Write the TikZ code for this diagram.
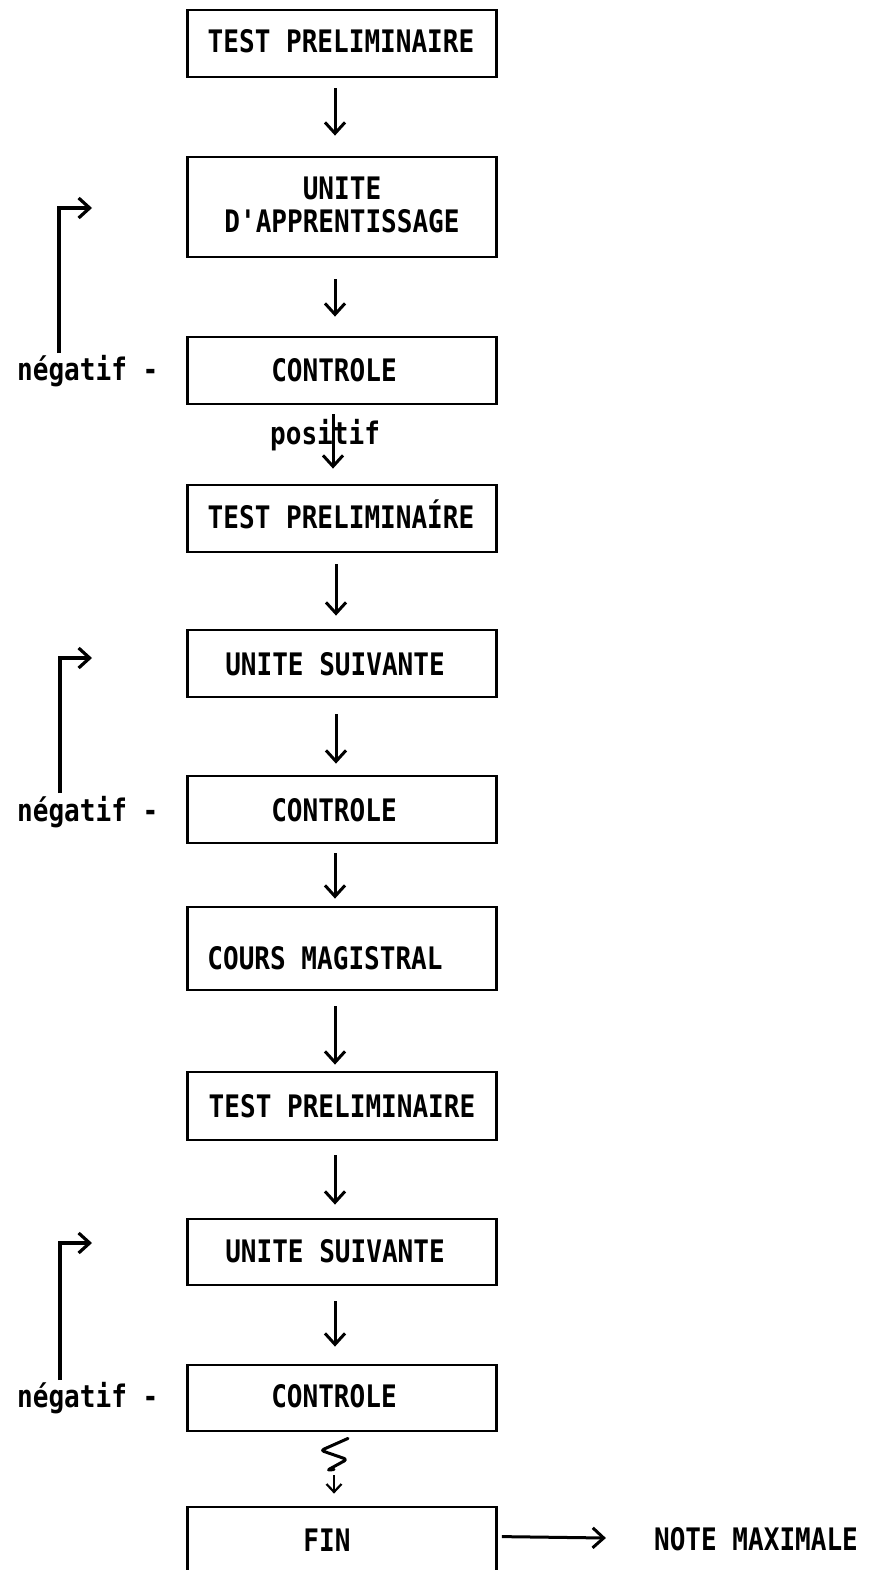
\documentclass[tikz,border=0pt]{standalone}
\usepackage{fontspec}
\newfontfamily\tw{DejaVu Sans Mono}[FakeStretch=0.84]
\usetikzlibrary{arrows.meta,calc}
\begin{document}
\begin{tikzpicture}[x=1pt,y=-1pt,
  box/.style={draw, line width=2.8pt, minimum width=309, inner sep=0pt},
  txt/.style={font=\tw\bfseries\fontsize{31}{36}\selectfont, inner sep=0pt, anchor=base},
  ltxt/.style={font=\tw\bfseries\fontsize{31}{36}\selectfont, inner sep=0pt, anchor=base west},
  arr/.style={line width=3pt, -{Straight Barb[length=11pt,width=20pt]}},
  loop/.style={line width=3.2pt, -{Straight Barb[length=11pt,width=20pt]}}]
\useasboundingbox (0,0) rectangle (869,1570);
\clip (0,0) rectangle (869,1570);
% boxes
\node[box, minimum height=67] (b1) at (342,43.5) {};
\node[box, minimum height=100] (b2) at (342,207) {};
\node[box, minimum height=67] (b3) at (342,370.5) {};
\node[box, minimum height=67] (b4) at (342,518.5) {};
\node[box, minimum height=67] (b5) at (342,663.5) {};
\node[box, minimum height=67] (b6) at (342,809.5) {};
\node[box, minimum height=83] (b7) at (342,948.5) {};
\node[box, minimum height=68] (b8) at (342,1106) {};
\node[box, minimum height=66] (b9) at (342,1252) {};
\node[box, minimum height=66] (b10) at (342,1398) {};
\node[box, minimum height=93] (b11) at (342,1553.5) {};
% texts
\node[txt] (t1) at (341,53) {TEST PRELIMINAIRE};
\node[txt] (t2a) at (342,200) {UNITE};
\node[txt] (t2b) at (342,233) {D'APPRENTISSAGE};
\node[txt] (t3) at (334,381) {CONTROLE};
\node[txt] (t4) at (341,528) {TEST PRELIMINAÍRE};
\node[txt] (t5) at (335,675) {UNITE SUIVANTE};
\node[txt] (t6) at (334,821) {CONTROLE};
\node[txt] (t7) at (325,969) {COURS MAGISTRAL};
\node[txt] (t8) at (342,1117) {TEST PRELIMINAIRE};
\node[txt] (t9) at (335,1262) {UNITE SUIVANTE};
\node[txt] (t10) at (334,1407) {CONTROLE};
\node[txt] (t11) at (327,1551) {FIN};
\node[txt] (note) at (756,1550) {NOTE MAXIMALE};
\node[ltxt] (n1) at (17,380) {négatif -};
\node[ltxt] (n2) at (17,821) {négatif -};
\node[ltxt] (n3) at (17,1407) {négatif -};
\node[ltxt] (pos) at (270,444) {positif};
% main arrows
\draw[arr] ($(b1.south)+(-7,10)$) -- ($(b2.north)+(-7,-20)$);
\draw[arr] ($(b2.south)+(-7,21)$) -- ($(b3.north)+(-7,-19)$);
\draw[arr] ($(b3.south)+(-9,9)$) -- ($(b4.north)+(-9,-15)$);
\draw[arr] ($(b4.south)+(-6,11)$) -- ($(b5.north)+(-6,-13)$);
\draw[arr] ($(b5.south)+(-6,16)$) -- ($(b6.north)+(-6,-11)$);
\draw[arr] ($(b6.south)+(-7,9)$) -- ($(b7.north)+(-7,-7)$);
\draw[arr] ($(b7.south)+(-7,15)$) -- ($(b8.north)+(-7,-6)$);
\draw[arr] ($(b8.south)+(-7,14)$) -- ($(b9.north)+(-7,-13)$);
\draw[arr] ($(b9.south)+(-7,15)$) -- ($(b10.north)+(-7,-17)$);
% squiggle and short arrow to FIN
\draw[line width=3pt, rounded corners=3pt, line cap=round, line join=round]
  ($(b10.south)+(6,6)$) -- ++(-27,12) -- ++(26,9) -- ++(-20,11) -- ++(7,-1);
\draw[line width=2.2pt, -{Straight Barb[length=8pt,width=15pt]}]
  ($(b10.south)+(-8,43)$) -- ($(b11.north)+(-8,-12)$);
% FIN -> NOTE MAXIMALE
\draw[arr] ($(b11.north east)+(4,31)$) -- ($(note.base west)+(-48,-12)$);
% loops
\coordinate (l1) at (92,208);
\coordinate (l2) at (92,658);
\coordinate (l3) at (92,1243);
\draw[loop] ($(n1.base west)+(42,-27)$) |- (l1);
\draw[loop] ($(n2.base west)+(43,-28)$) |- (l2);
\draw[loop] ($(n3.base west)+(43,-27)$) |- (l3);
\end{tikzpicture}
\end{document}
